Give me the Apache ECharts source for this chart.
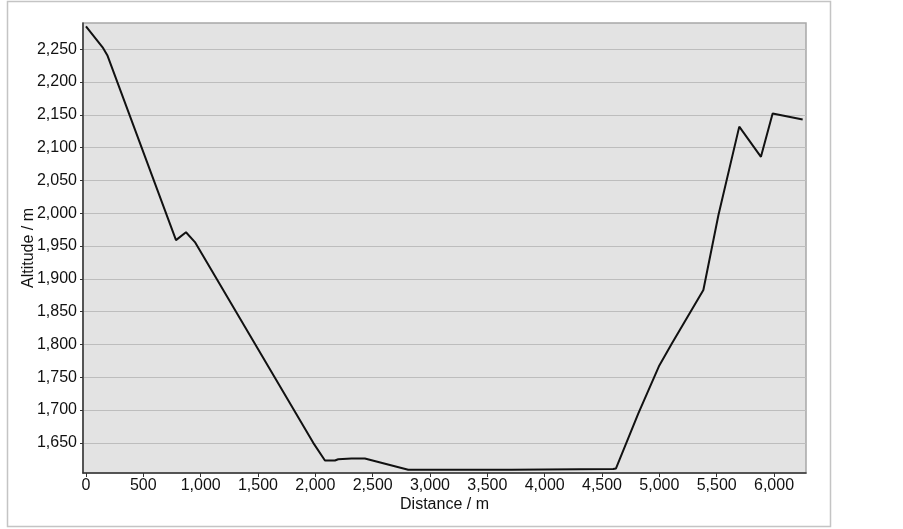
<!DOCTYPE html>
<html>
<head>
<meta charset="utf-8">
<script src="https://cdn.jsdelivr.net/npm/echarts@6/dist/echarts.min.js"></script>
<style>
  html, body { margin: 0; padding: 0; background: #fff; }
  #main { width: 903px; height: 529px; }
</style>
</head>
<body>
<div id="main"></div>
<script>
// elevation profile
var distance = [0, 145, 186, 785, 872, 950, 1982, 2084, 2171, 2200, 2316, 2432, 2810, 3711, 3717, 4598, 4622, 4817, 5000, 5108, 5384, 5515, 5697, 5886, 5988, 6075, 6250];
var altitude = [2285, 2253, 2241, 1959, 1971, 1956, 1650, 1623, 1623, 1625, 1626, 1626, 1609, 1609, 1610, 1610, 1611, 1695, 1768, 1801, 1883, 1997, 2132, 2086, 2152, 2149, 2143];

var xMin = -26, xMax = 6279;
var yMin = 1604, yMax = 2290;

var points = [];
for (var i = 0; i < distance.length; i++) {
    points.push([distance[i], altitude[i]]);
}

function fmt(v) {
    return Number(v).toLocaleString('en-US');
}

var chart = echarts.init(document.getElementById('main'));
var font = '"Liberation Sans", Arial, sans-serif';

var option = {
    animation: false,
    backgroundColor: '#fff',
    textStyle: { fontFamily: font },
    graphic: [{
        type: 'rect',
        shape: { x: 7.5, y: 1.5, width: 823, height: 525 },
        style: { fill: 'none', stroke: '#c4c4c4', lineWidth: 1.5 },
        z: -1
    }],
    grid: {
        left: 83, right: 97, top: 23, bottom: 56,
        show: true,
        backgroundColor: '#e3e3e3',
        borderColor: '#a8a8a8',
        borderWidth: 1.5
    },
    xAxis: {
        type: 'value',
        min: xMin, max: xMax,
        splitNumber: 12,
        name: 'Distance / m',
        nameLocation: 'middle',
        nameGap: 24,
        nameMoveOverlap: false,
        nameTextStyle: { fontSize: 16, color: '#111', fontFamily: font },
        axisLine: { show: true, onZero: false, lineStyle: { color: '#333', width: 1.5 } },
        axisTick: { show: true, length: 4, lineStyle: { color: '#333' } },
        axisLabel: {
            fontSize: 16, color: '#111', margin: 5, fontFamily: font,
            showMinLabel: false, showMaxLabel: false,
            formatter: fmt
        },
        splitLine: { show: false }
    },
    yAxis: {
        type: 'value',
        min: yMin, max: yMax,
        splitNumber: 14,
        name: 'Altitude / m',
        nameLocation: 'middle',
        nameGap: 46,
        nameMoveOverlap: false,
        nameTextStyle: { fontSize: 16, color: '#111', fontFamily: font },
        axisLine: { show: true, onZero: false, lineStyle: { color: '#333', width: 1.5 } },
        axisTick: { show: true, length: 3, lineStyle: { color: '#333' } },
        axisLabel: {
            fontSize: 16, color: '#111', margin: 6, fontFamily: font,
            showMinLabel: false, showMaxLabel: false,
            formatter: fmt
        },
        splitLine: {
            show: true,
            showMinLine: false, showMaxLine: false,
            lineStyle: { color: '#bdbdbd', width: 1.2 }
        }
    },
    series: [{
        type: 'line',
        data: points,
        showSymbol: false,
        lineStyle: { color: '#111', width: 2 },
        clip: true
    }]
};

chart.setOption(option);
</script>
</body>
</html>
